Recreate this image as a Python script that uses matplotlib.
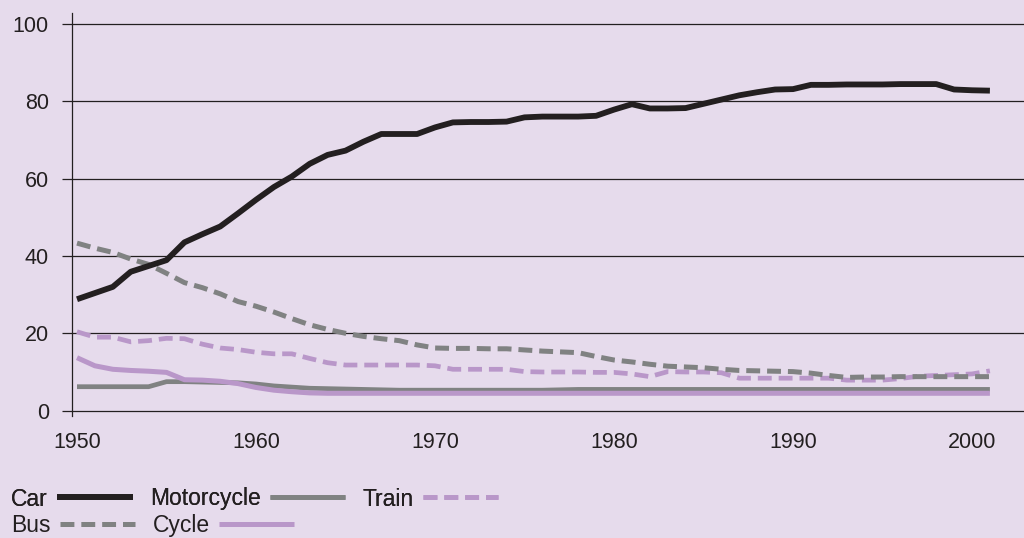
import matplotlib
matplotlib.use("Agg")
import matplotlib.pyplot as plt

years = list(range(1950, 2002))

car = [28.8, 30.4, 32.0, 35.9, 37.4, 38.9, 43.5, 45.6, 47.6, 51.0,
       54.5, 57.8, 60.5, 63.8, 66.1, 67.2, 69.5, 71.5, 71.5, 71.5,
       73.2, 74.5, 74.6, 74.6, 74.7, 75.8, 76.0, 76.0, 76.0, 76.2,
       77.8, 79.2, 78.1, 78.1, 78.2, 79.3, 80.4, 81.5, 82.3, 83.0,
       83.1, 84.2, 84.2, 84.3, 84.3, 84.3, 84.4, 84.4, 84.4, 83.0,
       82.8, 82.7]

bus = [43.3, 42.0, 40.9, 39.2, 37.8, 35.5, 33.1, 31.8, 30.2, 28.2,
       27.0, 25.5, 23.8, 22.2, 21.0, 20.0, 19.2, 18.6, 18.1, 17.0,
       16.2, 16.1, 16.1, 16.0, 16.0, 15.7, 15.4, 15.2, 15.0, 14.0,
       13.1, 12.6, 12.0, 11.5, 11.3, 11.1, 10.7, 10.4, 10.3, 10.2,
       10.1, 9.7, 9.1, 8.6, 8.7, 8.7, 8.8, 8.8, 8.8, 8.8,
       8.8, 8.8]

train = [20.4, 19.0, 19.0, 17.8, 18.1, 18.7, 18.6, 17.2, 16.2, 15.8,
         15.1, 14.7, 14.7, 13.5, 12.4, 11.8, 11.8, 11.8, 11.8, 11.8,
         11.6, 10.7, 10.7, 10.7, 10.7, 10.1, 10.0, 10.0, 10.0, 9.9,
         9.9, 9.5, 8.8, 10.1, 10.0, 10.0, 9.8, 8.4, 8.4, 8.4,
         8.4, 8.4, 8.4, 7.9, 7.9, 7.9, 8.3, 8.9, 9.1, 9.3,
         9.5, 10.3]

motorcycle = [6.2, 6.2, 6.2, 6.2, 6.2, 7.5, 7.5, 7.4, 7.3, 7.2,
              6.9, 6.4, 6.1, 5.8, 5.7, 5.6, 5.5, 5.4, 5.3, 5.3,
              5.3, 5.3, 5.3, 5.3, 5.3, 5.3, 5.3, 5.4, 5.5, 5.5,
              5.5, 5.5, 5.5, 5.5, 5.5, 5.5, 5.5, 5.5, 5.5, 5.5,
              5.5, 5.5, 5.5, 5.5, 5.5, 5.5, 5.5, 5.5, 5.5, 5.5,
              5.5, 5.5]

cycle = [13.7, 11.6, 10.7, 10.4, 10.2, 9.9, 8.0, 7.9, 7.6, 7.0,
         6.0, 5.3, 4.9, 4.6, 4.5, 4.5, 4.5, 4.5, 4.5, 4.5,
         4.5, 4.5, 4.5, 4.5, 4.5, 4.5, 4.5, 4.5, 4.5, 4.5,
         4.5, 4.5, 4.5, 4.5, 4.5, 4.5, 4.5, 4.5, 4.5, 4.5,
         4.5, 4.5, 4.5, 4.5, 4.5, 4.5, 4.5, 4.5, 4.5, 4.5,
         4.5, 4.5]

x_ticks = [1950, 1960, 1970, 1980, 1990, 2000]
y_ticks = [0, 20, 40, 60, 80, 100]

BG = "#E6DBEC"
DARK = "#231F20"
GREY = "#808282"
PURPLE = "#B997C9"

plt.rcParams["font.family"] = ["Liberation Sans", "DejaVu Sans"]
plt.rcParams["lines.scale_dashes"] = False
FS = 15.5
LFS = 16.5

fig = plt.figure(figsize=(10.24, 5.38), dpi=100, facecolor=BG)
W, H = 1024, 538
ax_left, ax_top, ax_bottom = 72, 13.3, 416
ax = fig.add_axes([ax_left / W, (H - ax_bottom) / H, 1 - ax_left / W, (ax_bottom - ax_top) / H])
ax.set_facecolor(BG)

dash = (0, (10, 5))
l_moto, = ax.plot(years, motorcycle, color=GREY, lw=3.4, solid_capstyle="butt", zorder=3)
l_cycle, = ax.plot(years, cycle, color=PURPLE, lw=3.6, solid_capstyle="butt", zorder=4)
l_train, = ax.plot(years, train, color=PURPLE, lw=3.4, linestyle=dash, zorder=5)
l_bus, = ax.plot(years, bus, color=GREY, lw=3.6, linestyle=dash, zorder=6)
l_car, = ax.plot(years, car, color=DARK, lw=4.2, solid_capstyle="butt", zorder=7)

ax.set_xlim(1950 - 5 / 17.9, 1950 + (1024 - 77) / 17.9)
ax.set_ylim(-1.37, 102.69)

for s in ["top", "right", "bottom"]:
    ax.spines[s].set_visible(False)
ax.spines["left"].set_color(DARK)
ax.spines["left"].set_linewidth(0.9)

ax.set_yticks(y_ticks)
ax.set_xticks(x_ticks)
ax.yaxis.grid(True, color=DARK, lw=0.9, zorder=1)
ax.set_axisbelow(True)
ax.tick_params(axis="y", length=7.2, width=0.9, color=DARK, pad=9.4,
               labelsize=FS, labelcolor=DARK)
ax.tick_params(axis="x", length=0, pad=11.5, labelsize=FS, labelcolor=DARK)

leg_kw = dict(loc="center left", frameon=False, markerfirst=False,
              fontsize=LFS, handlelength=3.3, handletextpad=0.4,
              columnspacing=0.75, borderpad=0, borderaxespad=0,
              labelcolor=DARK)
row1 = fig.legend([l_car, l_moto, l_train], ["Car", "Motorcycle", "Train"],
                  bbox_to_anchor=(11 / W, 1 - 499 / H), ncol=3, **leg_kw)
fig.add_artist(row1)
fig.legend([l_bus, l_cycle], ["Bus", "Cycle"],
           bbox_to_anchor=(11 / W, 1 - 525.5 / H), ncol=2, **leg_kw)

fig.savefig("out.png", dpi=100, facecolor=BG)
